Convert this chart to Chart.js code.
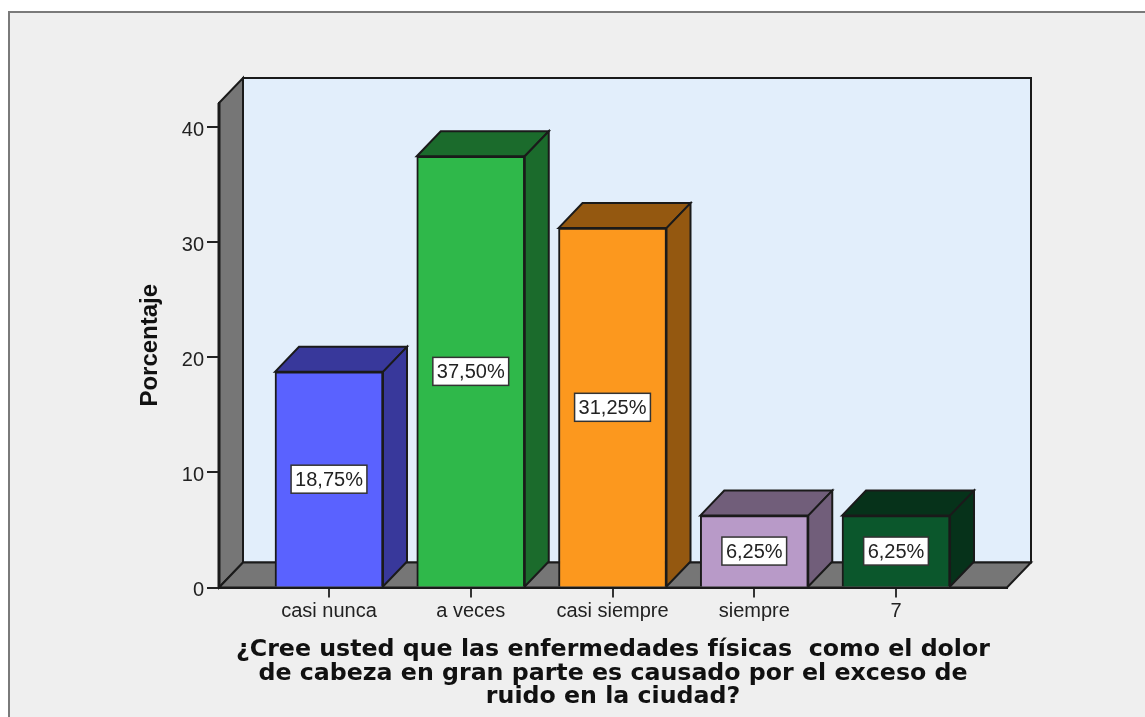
<!DOCTYPE html>
<html>
<head>
<meta charset="utf-8">
<style>
  html, body { margin: 0; padding: 0; background: #fff; }
  canvas { display: block; }
</style>
<script src="https://cdn.jsdelivr.net/npm/chart.js@4"></script>
</head>
<body>
<canvas id="myChart" width="1145" height="717"></canvas>
<script>
var categories = ['casi nunca', 'a veces', 'casi siempre', 'siempre', '7'];
var percentValues = [18.75, 37.5, 31.25, 6.25, 6.25];
var yTicks = [0, 10, 20, 30, 40];
var xTitleLines = [
    '¿Cree usted que las enfermedades físicas  como el dolor',
    'de cabeza en gran parte es causado por el exceso de',
    'ruido en la ciudad?'
];
var frontColors = ['#5a62ff', '#2fb84a', '#fc981e', '#b89ac8', '#0b572c'];
var sideColors = ['#38389b', '#1b6b2c', '#945810', '#715e7a', '#06321a'];

var depthX = 24, depthY = 25; // глубина 3D-эффекта
var lineColor = '#1a1a1a';

function poly(c, pts, fill, width) {
    c.beginPath();
    c.moveTo(pts[0][0], pts[0][1]);
    for (var i = 1; i < pts.length; i++) c.lineTo(pts[i][0], pts[i][1]);
    c.closePath();
    c.fillStyle = fill;
    c.fill();
    c.lineWidth = width;
    c.strokeStyle = lineColor;
    c.lineJoin = 'miter';
    c.stroke();
}

var box3d = {
    id: 'box3d',
    // фон, рамка и стенки
    beforeDraw: function (chart) {
        var c = chart.ctx, a = chart.chartArea;
        c.save();
        c.fillStyle = '#ffffff';
        c.fillRect(0, 0, chart.width, chart.height);
        c.fillStyle = '#efefef';
        c.fillRect(9, 12, chart.width, chart.height);
        c.strokeStyle = '#7a7a7a';
        c.lineWidth = 2;
        c.beginPath();
        c.moveTo(9, chart.height);
        c.lineTo(9, 12);
        c.lineTo(chart.width, 12);
        c.stroke();
        poly(c, [[a.left + depthX, a.top - depthY], [a.right + depthX, a.top - depthY],
                 [a.right + depthX, a.bottom - depthY], [a.left + depthX, a.bottom - depthY]], '#e2eefb', 2);
        poly(c, [[a.left, a.top], [a.left + depthX, a.top - depthY],
                 [a.left + depthX, a.bottom - depthY], [a.left, a.bottom]], '#767676', 2);
        poly(c, [[a.left, a.bottom], [a.left + depthX, a.bottom - depthY],
                 [a.right + depthX, a.bottom - depthY], [a.right, a.bottom]], '#767676', 2);
        // левое ребро толще
        c.lineWidth = 3;
        c.beginPath();
        c.moveTo(a.left, a.top);
        c.lineTo(a.left, a.bottom);
        c.stroke();
        c.restore();
    },
    // верх и бок столбцов, подписи значений
    afterDatasetsDraw: function (chart) {
        var c = chart.ctx;
        var bars = chart.getDatasetMeta(0).data;
        c.save();
        bars.forEach(function (bar, i) {
            var l = bar.x - bar.width / 2, r = bar.x + bar.width / 2;
            poly(c, [[l, bar.y], [l + depthX, bar.y - depthY], [r + depthX, bar.y - depthY], [r, bar.y]], sideColors[i], 2);
            poly(c, [[r, bar.y], [r + depthX, bar.y - depthY], [r + depthX, bar.base - depthY], [r, bar.base]], sideColors[i], 2);
        });
        c.font = '20px "Liberation Sans"';
        c.textAlign = 'center';
        c.textBaseline = 'middle';
        bars.forEach(function (bar, i) {
            var text = percentValues[i].toFixed(2).replace('.', ',') + '%';
            var w = c.measureText(text).width + 8, h = 28;
            var my = (bar.y + bar.base) / 2;
            c.fillStyle = '#ffffff';
            c.fillRect(bar.x - w / 2, my - h / 2, w, h);
            c.strokeStyle = '#333333';
            c.lineWidth = 1.5;
            c.strokeRect(bar.x - w / 2, my - h / 2, w, h);
            c.fillStyle = '#222222';
            c.fillText(text, bar.x, my + 1);
        });
        c.restore();
    }
};

new Chart(document.getElementById('myChart'), {
    type: 'bar',
    data: {
        datasets: [{
            data: percentValues.map(function (v, i) { return { x: i, y: v }; }),
            backgroundColor: frontColors,
            borderColor: lineColor,
            borderWidth: 2,
            barThickness: 108
        }]
    },
    plugins: [box3d],
    options: {
        responsive: false,
        animation: false,
        layout: { padding: { top: 103, right: 138, left: 0, bottom: 0 } },
        plugins: { legend: { display: false }, tooltip: { enabled: false } },
        scales: {
            x: {
                type: 'linear',
                offset: false,
                min: -0.776,
                max: 4.783,
                afterFit: function (s) { s.height = 129.5; },
                afterBuildTicks: function (s) {
                    s.ticks = categories.map(function (_, i) { return { value: i }; });
                },
                grid: { offset: false, drawOnChartArea: false, drawTicks: true, tickLength: 10, color: '#333333', lineWidth: 2 },
                border: { color: lineColor, width: 2 },
                ticks: {
                    autoSkip: false,
                    maxRotation: 0,
                    padding: 2,
                    color: '#222222',
                    font: { family: '"Liberation Sans"', size: 20 },
                    callback: function (v) { return categories[v]; }
                },
                title: {
                    display: true,
                    text: xTitleLines,
                    color: '#111111',
                    font: { family: '"DejaVu Sans"', size: 23.7, weight: 'bold', lineHeight: 1 },
                    padding: { top: 8, bottom: 8 }
                }
            },
            y: {
                min: 0,
                max: 42.13,
                afterFit: function (s) { s.width = 219; },
                afterBuildTicks: function (s) {
                    s.ticks = yTicks.map(function (v) { return { value: v }; });
                },
                grid: { drawOnChartArea: false, drawTicks: true, tickLength: 12, color: '#222222', lineWidth: 2 },
                border: { color: lineColor, width: 2 },
                ticks: {
                    padding: 3,
                    color: '#222222',
                    // пустая первая строка сдвигает подпись немного вниз от риски
                    font: { family: '"Liberation Sans"', size: 20, lineHeight: '5px' },
                    callback: function (v) { return ['', String(v)]; }
                },
                title: {
                    display: true,
                    text: 'Porcentaje',
                    color: '#111111',
                    font: { family: '"Liberation Sans"', size: 24, weight: 'bold' },
                    padding: { top: 136, bottom: 0 }
                }
            }
        }
    }
});
</script>
</body>
</html>
